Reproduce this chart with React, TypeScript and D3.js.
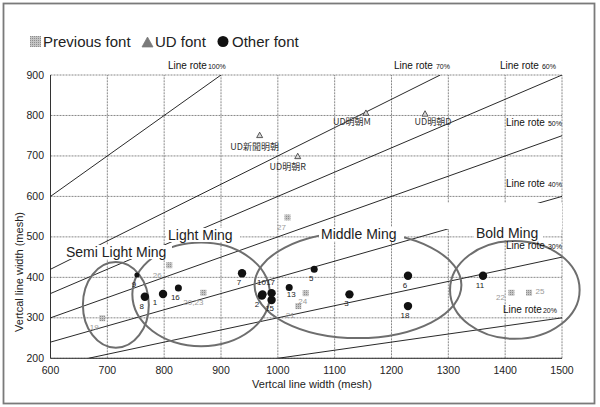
import React from "react";
import * as d3 from "d3";

// ---------- data ----------
const xTicks = [600, 700, 800, 900, 1000, 1100, 1200, 1300, 1400, 1500];
const yTicks = [200, 300, 400, 500, 600, 700, 800, 900];

const rateValues = [1, 0.7, 0.6, 0.5, 0.4, 0.3, 0.2];
const rateLabels = ["100%", "70%", "60%", "50%", "40%", "30%", "20%"];

// Other font (black circles)
const otherLabels = ["1", "2", "3", "5", "6", "7", "8", "9", "10", "11", "13", "15", "16", "17", "18"];
const otherX = [798, 972, 1126, 1064, 1229, 937, 766, 752, 973, 1361, 1020, 989, 825, 989, 1229];
const otherY = [359, 355, 358, 420, 404, 410, 352, 406, 358, 404, 375, 344, 374, 361, 329];

// Previous font (grey squares)
const prevLabels = ["19", "20,23", "21", "22", "24", "25", "26", "27"];
const prevX = [691, 869, 1036, 1411, 1049, 1442, 809, 1017];
const prevY = [299, 362, 329, 362, 361, 362, 430, 548];

// UD font (triangles)
const udLabels = ["UD新聞明朝", "UD明朝R", "UD明朝M", "UD明朝D"];
const udX = [968, 1035, 1155, 1259];
const udY = [752, 700, 807, 805];

// Font group ellipses (data units)
const groupNames = ["Semi Light Ming", "Light Ming", "Middle Ming", "Bold Ming"];
const groupCx = [715, 865, 1141, 1417];
const groupCy = [332, 358, 381, 369];
const groupRx = [58, 121, 182, 114];
const groupRy = [106, 128, 131, 121];

// ---------- layout ----------
const W = 600;
const H = 407;
const x = d3.scaleLinear().domain([600, 1500]).range([50.5, 562]);
const y = d3.scaleLinear().domain([200, 900]).range([358.3, 75]);

const rateLabelPos: [number, number, boolean][] = [
  [168, 68.5, false],
  [394, 68.5, true],
  [500, 68.5, true],
  [506, 126, true],
  [506, 186.5, true],
  [506, 249, true],
  [503, 313, false],
];

const groupLabelPos: [number, number, number][] = [
  [66, 257, 104],
  [168, 240, 70],
  [321, 239, 81],
  [476, 238, 65],
];

const otherOffsets: Record<string, [number, number]> = {
  "1": [-8, 8],
  "10": [-1, -12],
  "17": [-1, -11],
  "15": [-2, 8],
  "13": [2, 7],
  "2": [-5, 8],
};
const smallDots = new Set(["9", "16", "13", "5"]);
const prevOffsets: Record<string, [number, number]> = {
  "25": [11, -2],
  "26": [-12, 10],
  "24": [-3, 8],
  "27": [-6, 10],
  "20,23": [-10, 9],
  "22": [-11, 4],
};
const udOffsets: [number, number][] = [
  [-5, 12],
  [-10, 11],
  [-14, 9],
  [8, 9],
];

const FONT = "'Liberation Sans', Arial, sans-serif";

function Triangle({ cx, cy, s, fill, stroke }: { cx: number; cy: number; s: number; fill: string; stroke: string }) {
  const h = s * 0.9;
  const p = `M${cx},${cy - h / 2} L${cx + s / 2},${cy + h / 2} L${cx - s / 2},${cy + h / 2} Z`;
  return <path d={p} fill={fill} stroke={stroke} strokeWidth={0.8} />;
}

export default function App() {
  const [x0, x1] = x.domain();
  const [y0, y1] = y.domain();
  const line = d3.line<[number, number]>().x((d) => x(d[0])).y((d) => y(d[1]));

  const rateSegs = rateValues.map((r) => {
    const a = Math.max(x0, y0 / r);
    const b = Math.min(x1, y1 / r);
    return line([
      [a, r * a],
      [b, r * b],
    ]) as string;
  });

  return (
    <svg width={W} height={H} style={{ position: "absolute", left: 0, top: 0, background: "#fff" }} fontFamily={FONT}>
      <defs>
        <pattern id="hatch" width="2" height="2" patternUnits="userSpaceOnUse">
          <rect width="2" height="2" fill="#c4c4c4" />
          <rect width="1" height="1" fill="#8e8e8e" />
        </pattern>
        <clipPath id="plot">
          <rect x={x(x0)} y={y(y1)} width={x(x1) - x(x0)} height={y(y0) - y(y1)} />
        </clipPath>
      </defs>
      <rect x={0} y={0} width={W} height={H} fill="#fff" />
      <rect x={3.5} y={3.5} width={591} height={400} fill="none" stroke="#7a7a7a" strokeWidth={1.8} />

      {/* legend */}
      <rect x={30} y={36} width={11} height={11} fill="url(#hatch)" />
      <text x={43} y={47} fontSize={15} fill="#222">Previous font</text>
      <Triangle cx={147.5} cy={42} s={11} fill="#7a7a7a" stroke="#7a7a7a" />
      <text x={155} y={47} fontSize={15} fill="#222">UD font</text>
      <circle cx={223} cy={41.5} r={5.5} fill="#111" />
      <text x={232} y={47} fontSize={15} fill="#222">Other font</text>

      {/* grid */}
      {xTicks.map((t) => (
        <line key={"gx" + t} x1={x(t)} x2={x(t)} y1={y(y0)} y2={y(y1)} stroke="#6a6a6a" strokeWidth={0.8} strokeDasharray="2,1" />
      ))}
      {yTicks.map((t) => (
        <line key={"gy" + t} x1={x(x0)} x2={x(x1)} y1={y(t)} y2={y(t)} stroke="#6a6a6a" strokeWidth={0.8} strokeDasharray="2,1" />
      ))}
      <line x1={x(x0)} x2={x(x0)} y1={y(y0)} y2={y(y1)} stroke="#333" strokeWidth={1} />
      <line x1={x(x0)} x2={x(x1)} y1={y(y0)} y2={y(y0)} stroke="#333" strokeWidth={1} />

      {/* line rate lines */}
      <g clipPath="url(#plot)">
        {rateSegs.map((d, i) => (
          <path key={"r" + i} d={d} stroke="#111" strokeWidth={0.9} fill="none" />
        ))}
      </g>

      {/* ellipses */}
      {groupNames.map((g, i) => (
        <ellipse
          key={"e" + i}
          cx={x(groupCx[i])}
          cy={y(groupCy[i])}
          rx={x(groupCx[i] + groupRx[i]) - x(groupCx[i])}
          ry={y(groupCy[i]) - y(groupCy[i] + groupRy[i])}
          fill="none"
          stroke="#6e6e6e"
          strokeWidth={2}
        />
      ))}

      {/* label backgrounds */}
      {groupLabelPos.map(([lx, ly, lw], i) => (
        <rect key={"b" + i} x={lx - 2} y={ly - 12} width={lw + 4} height={14} fill="#fff" />
      ))}
      <rect x={428} y={203} width={134} height={26} fill="#fff" />
      {groupNames.map((g, i) => (
        <text key={"gl" + i} x={groupLabelPos[i][0]} y={groupLabelPos[i][1]} fontSize={14} fill="#222">
          {g}
        </text>
      ))}

      {/* rate labels */}
      {rateLabels.map((l, i) => {
        const [lx, ly, sp] = rateLabelPos[i];
        return (
          <text key={"rl" + i} x={lx} y={ly} fontSize={10} fill="#111">
            Line rote
            <tspan fontSize={7} dx={sp ? 3 : 1}>{l}</tspan>
          </text>
        );
      })}

      {/* axis ticks */}
      {xTicks.map((t) => (
        <text key={"xt" + t} x={x(t)} y={374} fontSize={10.5} textAnchor="middle" fill="#222">
          {t}
        </text>
      ))}
      {yTicks.map((t) => (
        <text key={"yt" + t} x={44} y={y(t) + 3.5} fontSize={10.5} textAnchor="end" fill="#222">
          {t}
        </text>
      ))}
      <text x={312} y={388} fontSize={11} textAnchor="middle" fill="#222">
        Vertcal line width (mesh)
      </text>
      <text transform={`translate(23,272) rotate(-90)`} fontSize={11} textAnchor="middle" fill="#222">
        Vertcal line width (mesh)
      </text>

      {/* previous font points */}
      {prevLabels.map((l, i) => {
        const px = x(prevX[i]);
        const py = y(prevY[i]);
        const [dx, dy] = prevOffsets[l] || [-8, 9];
        return (
          <g key={"p" + i}>
            <rect x={px - 3} y={py - 3} width={6} height={6} fill="url(#hatch)" />
            <text x={px + dx} y={py + dy + 3} fontSize={8} textAnchor="middle" fill="#9a9a9a">
              {l}
            </text>
          </g>
        );
      })}

      {/* UD font points */}
      {udLabels.map((l, i) => {
        const px = x(udX[i]);
        const py = y(udY[i]);
        const [dx, dy] = udOffsets[i];
        return (
          <g key={"u" + i}>
            <Triangle cx={px} cy={py} s={6} fill="#d8d8d8" stroke="#333" />
            <text x={px + dx} y={py + dy + 3} fontSize={9} textAnchor="middle" fill="#333" fontFamily="'Noto Sans CJK JP', sans-serif">
              {l}
            </text>
          </g>
        );
      })}

      {/* other font points */}
      {otherLabels.map((l, i) => {
        const px = x(otherX[i]);
        const py = y(otherY[i]);
        const [dx, dy] = otherOffsets[l] || [-3, 9];
        return (
          <g key={"o" + i}>
            <circle cx={px} cy={py} r={smallDots.has(l) ? (l === "9" ? 2.5 : 3.5) : 4.2} fill="#111" />
            <text x={px + dx} y={py + dy + 3} fontSize={8} textAnchor="middle" fill="#222">
              {l}
            </text>
          </g>
        );
      })}
    </svg>
  );
}
